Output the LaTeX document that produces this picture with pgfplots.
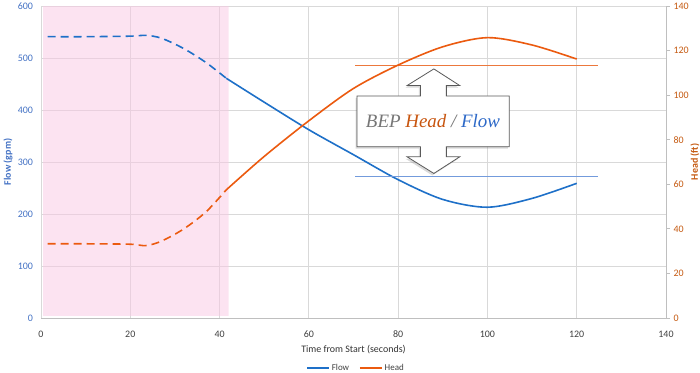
\documentclass[border=0pt]{standalone}
\usepackage{fontspec}
\setmainfont{Carlito}
\newfontfamily\boxfont{Liberation Serif}
\usepackage{pgfplots}
\pgfplotsset{compat=1.18}
\usetikzlibrary{shadows}

\definecolor{flowc}{RGB}{30,112,200}
\definecolor{headc}{RGB}{235,90,15}
\definecolor{flowtick}{RGB}{68,114,196}
\definecolor{headtick}{RGB}{197,90,17}
\definecolor{gridc}{RGB}{217,217,217}
\definecolor{axc}{RGB}{191,191,191}
\definecolor{pinkc}{RGB}{250,200,228}
\definecolor{bepgray}{RGB}{118,118,118}
\definecolor{bephead}{RGB}{200,85,15}
\definecolor{bepflow}{RGB}{45,105,200}
\definecolor{bepflowline}{RGB}{115,155,220}
\definecolor{bepheadline}{RGB}{236,120,60}

\pgfplotsset{
  common/.style={
    scale only axis, width=625bp, height=312bp,
    xmin=0, xmax=140,
    /pgf/number format/assume math mode=true,
    tick label style={font=\fontsize{10}{12}\selectfont},
  }
}

\begin{document}
\begin{tikzpicture}
\begin{axis}[common,
  ymin=0, ymax=600, ytick={0,100,...,600}, xtick={0,20,...,140},
  grid=major, grid style={gridc, line width=0.8bp},
  axis line style={draw=none}, major tick length=0pt,
  yticklabel style={text=flowtick, xshift=-4.5bp},
  every x tick label/.append style={anchor=center, yshift=-16bp, text=black!75},
  xlabel={Time from Start (seconds)},
  every axis x label/.style={at={(rel axis cs:0.5,0)}, yshift=-32bp, anchor=center, font=\fontsize{10}{12}\selectfont, text=black!80},
  ylabel={\bfseries Flow (gpm)},
  every axis y label/.style={at={(rel axis cs:0,0.5)}, xshift=-33bp, rotate=90, anchor=center, font=\fontsize{10}{12}\selectfont, text=flowtick},
]
\addplot[draw=none, fill=pinkc, fill opacity=0.5, forget plot]
  coordinates {(0.5,4) (42,4) (42,600) (0.5,600) (0.5,4)};
\draw[axc, line width=0.9bp] (rel axis cs:0,0) -- (rel axis cs:1,0);
\addplot[flowc, line width=1.6bp, smooth, dash pattern=on 8bp off 5bp, forget plot]
  coordinates {(1.5,541) (10,541) (20,542) (23.5,543.5) (27,538) (32,518) (37,491) (41.5,461)};
\addplot[flowc, line width=1.6bp, smooth, forget plot]
  coordinates {(41.5,461) (50,415) (60,362) (70,314) (80,266) (90,228) (100,213) (110,230) (120,259)};
\addplot[color=bepflowline, line width=1.2bp, forget plot]
  coordinates {(70.4,271.5) (124.7,271.5)};
% BEP head line (113.2 ft expressed on the flow scale: 113.2*600/140)
\addplot[color=bepheadline, line width=1.3bp, forget plot]
  coordinates {(70.4,485.1) (124.7,485.1)};
\coordinate (SW) at (rel axis cs:0,0);
\coordinate (NE) at (rel axis cs:1,1);
\coordinate (a1) at (axis cs:70.8,427);
\coordinate (a2) at (axis cs:85,427);
\coordinate (a3) at (axis cs:85,447);
\coordinate (a4) at (axis cs:82,447);
\coordinate (a5) at (axis cs:88,479);
\coordinate (a6) at (axis cs:93.8,447);
\coordinate (a7) at (axis cs:90.8,447);
\coordinate (a8) at (axis cs:90.8,427);
\coordinate (a9) at (axis cs:104.9,427);
\coordinate (b1) at (axis cs:104.9,329.5);
\coordinate (b2) at (axis cs:90.8,329.5);
\coordinate (b3) at (axis cs:90.8,310);
\coordinate (b4) at (axis cs:93.8,310);
\coordinate (b5) at (axis cs:88,278);
\coordinate (b6) at (axis cs:82,310);
\coordinate (b7) at (axis cs:85,310);
\coordinate (b8) at (axis cs:85,329.5);
\coordinate (b9) at (axis cs:70.8,329.5);
\coordinate (tc) at (axis cs:87.8,379);
\end{axis}

\begin{axis}[common,
  ymin=0, ymax=140, ytick={0,20,...,140},
  axis y line*=right, axis x line=none,
  axis line style={axc, line width=0.9bp, -},
  tick style={axc, line width=0.8bp}, major tick length=4bp, tick align=outside,
  yticklabel style={text=headtick},
  ylabel={\bfseries Head (ft)},
  every axis y label/.style={at={(rel axis cs:1,0.5)}, xshift=29bp, rotate=90, anchor=center, font=\fontsize{10}{12}\selectfont, text=headtick},
  legend style={at={(0.504,-0.16)}, anchor=center, draw=none, fill=none,
    font=\fontsize{9}{11}\selectfont, text=black!75,
    /tikz/every even column/.append style={column sep=8bp}},
  legend columns=2,
  legend image code/.code={\draw[#1] (0bp,0bp) -- (22bp,0bp);},
]
\addlegendimage{flowc, line width=1.6bp}
\addlegendentry{Flow}
\addplot[headc, line width=1.6bp, smooth, dash pattern=on 8bp off 5bp, forget plot]
  coordinates {(1.5,33.3) (10,33.3) (20,33.1) (23.5,32.5) (27,34.5) (32,40) (37,47.7) (41.5,57.5)};
\addplot[headc, line width=1.6bp, smooth]
  coordinates {(41.5,57.5) (50,72.5) (60,88.5) (70,103) (80,113.5) (90,121.7) (100,125.8) (110,122.5) (120,116.2)};
\addlegendentry{Head}
\end{axis}

\draw[draw=black!65, line width=0.8bp, fill=white,
  drop shadow={shadow xshift=-1.5bp, shadow yshift=-2bp, opacity=0.3}]
  (a1) -- (a2) -- (a3) -- (a4) -- (a5) -- (a6) -- (a7) -- (a8) -- (a9) --
  (b1) -- (b2) -- (b3) -- (b4) -- (b5) -- (b6) -- (b7) -- (b8) -- (b9) -- cycle;
\node at (tc) {\boxfont\itshape\fontsize{19}{19}\selectfont
  \textcolor{bepgray}{BEP} \textcolor{bephead}{Head} \textcolor{bepgray}{/} \textcolor{bepflow}{Flow}};

\pgfresetboundingbox
\path[use as bounding box] ([shift={(-41bp,-55bp)}]SW) rectangle ([shift={(34bp,6bp)}]NE);
\end{tikzpicture}
\end{document}
